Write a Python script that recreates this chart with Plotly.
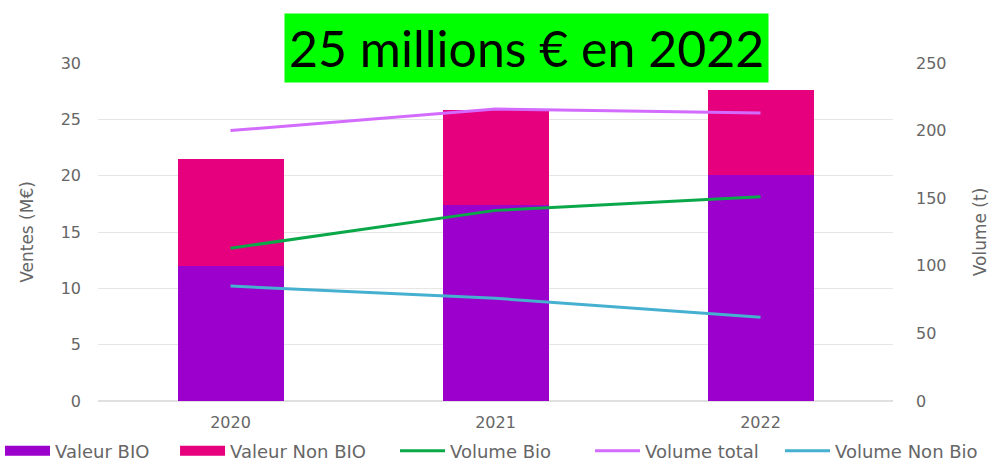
import plotly.graph_objects as go

years = ["2020", "2021", "2022"]
valeur_bio = [12.0, 17.4, 20.1]
valeur_non_bio = [9.5, 8.4, 7.5]
volume_bio = [113, 141, 151]
volume_total = [200, 216, 213]
volume_non_bio = [85, 76, 62]

left_ticks = [0, 5, 10, 15, 20, 25, 30]
right_ticks = [0, 50, 100, 150, 200, 250]

grey = "#666666"
font_family = "DejaVu Sans, sans-serif"
c_bio = "#9B00CC"
c_nonbio = "#E6007E"

fig = go.Figure()
fig.add_trace(go.Bar(x=years, y=valeur_bio, name="Valeur BIO", showlegend=False,
                     marker=dict(color=c_bio, line=dict(width=0))))
fig.add_trace(go.Bar(x=years, y=valeur_non_bio, name="Valeur Non BIO", showlegend=False,
                     marker=dict(color=c_nonbio, line=dict(width=0))))
# legend entries for the bars drawn as wide swatches
fig.add_trace(go.Scatter(x=[None], y=[None], name="Valeur BIO", mode="lines",
                         line=dict(color=c_bio, width=12), legend="legend"))
fig.add_trace(go.Scatter(x=[None], y=[None], name="Valeur Non BIO", mode="lines",
                         line=dict(color=c_nonbio, width=12), legend="legend2"))
fig.add_trace(go.Scatter(x=years, y=volume_bio, name="Volume Bio", yaxis="y2",
                         mode="lines", line=dict(color="#0BA84A", width=3), legend="legend3"))
fig.add_trace(go.Scatter(x=years, y=volume_total, name="Volume total", yaxis="y2",
                         mode="lines", line=dict(color="#D36BFF", width=3), legend="legend4"))
fig.add_trace(go.Scatter(x=years, y=volume_non_bio, name="Volume Non Bio", yaxis="y2",
                         mode="lines", line=dict(color="#45B0CF", width=3), legend="legend5"))

legend_common = dict(orientation="h", xref="container", yref="container",
                     xanchor="left", y=0.028, yanchor="middle",
                     font=dict(size=18, color=grey), itemwidth=45,
                     traceorder="normal", bgcolor="rgba(0,0,0,0)")

fig.update_layout(
    width=994, height=464,
    margin=dict(l=98, r=101, t=63, b=63, autoexpand=False),
    barmode="stack", bargap=0.6,
    plot_bgcolor="white", paper_bgcolor="white",
    font=dict(family=font_family, color=grey, size=16),
    xaxis=dict(showgrid=False, tickfont=dict(size=16, color=grey), ticks="",
               showline=False, zeroline=False, ticklabelstandoff=10),
    yaxis=dict(range=[0, 30], tickvals=left_ticks, showgrid=True, gridcolor="#E6E6E6",
               gridwidth=1, zeroline=True, zerolinecolor="#E0E0E0",
               title=dict(text="Ventes (M€)", font=dict(size=17, color=grey), standoff=22),
               tickfont=dict(size=16, color=grey), ticklabelstandoff=16),
    yaxis2=dict(range=[0, 250], tickvals=right_ticks, overlaying="y", side="right",
                showgrid=False, zeroline=False,
                title=dict(text="Volume (t)", font=dict(size=17, color=grey), standoff=28),
                tickfont=dict(size=16, color=grey), ticklabelstandoff=22),
    legend=dict(legend_common, x=0.0),
    legend2=dict(legend_common, x=0.1761),
    legend3=dict(legend_common, x=0.3974),
    legend4=dict(legend_common, x=0.5936),
    legend5=dict(legend_common, x=0.7847),
    showlegend=True,
)

fig.add_annotation(
    text="25 millions € en 2022", xref="paper", yref="paper",
    x=0.5385, y=1.043, xanchor="center", yanchor="middle", showarrow=False,
    font=dict(family="Lato, sans-serif", size=50, color="black"),
    bgcolor="#00FF00", borderpad=4,
)

fig.write_html("out.html", config={"displayModeBar": False},
               post_script="document.body.style.margin='0';document.body.style.overflow='hidden';")
